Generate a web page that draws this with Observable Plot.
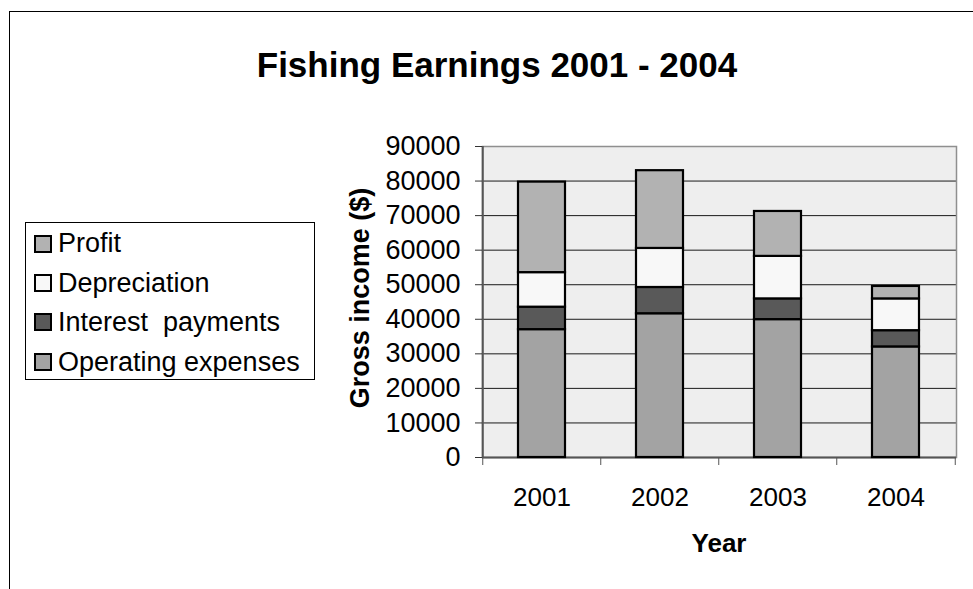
<!DOCTYPE html>
<html>
<head>
<meta charset="utf-8">
<script src="https://cdn.jsdelivr.net/npm/d3@7"></script>
<script src="https://cdn.jsdelivr.net/npm/@observablehq/plot@0.6"></script>
<style>
  html, body { margin: 0; padding: 0; background: #fff; }
  body { font-family: "Liberation Sans", Arial, sans-serif; }
  #wrap { position: relative; width: 973px; height: 589px; overflow: hidden; background: #fff; }
  #border { position: absolute; left: 9px; top: 11px; width: 1200px; height: 1200px; border-left: 1.5px solid #000; border-top: 1.5px solid #000; }
  #chart { position: absolute; left: 0; top: 0; }
  #title { position: absolute; left: 497px; top: 47px; transform: translateX(-50%); font-weight: bold; font-size: 35px; line-height: 35px; white-space: nowrap; color: #000; }
  #ylabel { position: absolute; left: 360px; top: 298px; transform: translate(-50%, -50%) rotate(-90deg); font-weight: bold; font-size: 27px; line-height: 27px; white-space: nowrap; }
  #xlabel { position: absolute; left: 719px; top: 530px; transform: translateX(-50%); font-weight: bold; font-size: 26px; line-height: 26px; white-space: nowrap; }
  #legend { position: absolute; left: 25px; top: 222px; width: 290px; height: 158px; box-sizing: border-box; border: 1px solid #000; background: #fff; }
  .row { position: absolute; left: 0; height: 25px; width: 288px; }
  .sw { position: absolute; left: 8px; top: 3.5px; width: 18px; height: 18px; box-sizing: border-box; border: 2px solid #000; }
  .lt { position: absolute; left: 32px; top: 0; font-size: 27px; line-height: 25px; white-space: pre; color: #000; }
</style>
</head>
<body>
<div id="wrap">
  <div id="border"></div>
  <div id="chart"></div>
  <div id="title"></div>
  <div id="ylabel"></div>
  <div id="xlabel"></div>
  <div id="legend"></div>
</div>
<script>
// ---- data ----
const years = ["2001", "2002", "2003", "2004"];
const seriesNames = ["Operating expenses", "Interest  payments", "Depreciation", "Profit"];
const operating = [37000, 41600, 39900, 32000];
const interest = [6500, 7600, 6000, 4700];
const depreciation = [10000, 11300, 12300, 9200];
const profit = [26200, 22500, 13000, 3600];
const seriesColors = ["#a3a3a3", "#595959", "#f8f8f8", "#b2b2b2"];
const yTicks = [0, 10000, 20000, 30000, 40000, 50000, 60000, 70000, 80000, 90000];
const legendOrder = ["Profit", "Depreciation", "Interest  payments", "Operating expenses"];
const titleText = "Fishing Earnings 2001 - 2004";
const yLabelText = "Gross income ($)";
const xLabelText = "Year";

// ---- table ----
const seriesValues = [operating, interest, depreciation, profit];
const data = [];
seriesNames.forEach((s, si) => {
  years.forEach((y, yi) => data.push({year: y, series: s, value: seriesValues[si][yi]}));
});

const W = 973, H = 589;
const mL = 482, mR = 17, mT = 146, mB = 132;
const xScaleOpts = {type: "band", domain: years, paddingInner: 0.6, paddingOuter: 0.3};
const step = Plot.scale({x: {...xScaleOpts, range: [mL, W - mR]}}).step;

const fmt = d3.format("d");

const chart = Plot.plot({
  width: W,
  height: H,
  marginLeft: mL,
  marginRight: mR,
  marginTop: mT,
  marginBottom: mB,
  style: {background: "transparent", fontFamily: "'Liberation Sans', Arial, sans-serif", color: "#000", overflow: "visible"},
  x: {...xScaleOpts, label: null},
  y: {domain: [0, 90000], label: null},
  color: {domain: seriesNames, range: seriesColors},
  marks: [
    Plot.frame({fill: "#eeeeee", stroke: "none"}),
    Plot.gridY(yTicks, {stroke: "#1a1a1a", strokeOpacity: 1, strokeWidth: 1}),
    Plot.frame({stroke: "#8f8f8f", strokeWidth: 1.5, fill: "none"}),
    Plot.ruleY([0], {stroke: "#555", strokeWidth: 2}),
    Plot.ruleX([years[0]], {y1: 0, y2: 90000, dx: -step / 2, stroke: "#555", strokeWidth: 2}),
    Plot.barY(data, {x: "year", y: "value", fill: "series", stroke: "#000", strokeWidth: 2.2}),
    Plot.axisY({ticks: yTicks, tickSize: 7, tickPadding: 15, fontSize: 27, tickFormat: fmt, label: null, stroke: "#333"}),
    Plot.axisX({ticks: years, tickSize: 8, tickFormat: () => "", dx: -step / 2, label: null, stroke: "#555"}),
    Plot.axisX({ticks: [years[years.length - 1]], tickSize: 8, tickFormat: () => "", dx: step / 2, label: null, stroke: "#555"}),
    Plot.axisX({ticks: years, tickSize: 0, tickPadding: 30, fontSize: 26, label: null})
  ]
});
document.getElementById("chart").appendChild(chart);

document.getElementById("title").textContent = titleText;
document.getElementById("ylabel").textContent = yLabelText;
document.getElementById("xlabel").textContent = xLabelText;

// legend
const rowCenters = [20.5, 60, 99, 139]; // relative to legend padding box
const legend = document.getElementById("legend");
legendOrder.forEach((name, i) => {
  const row = document.createElement("div");
  row.className = "row";
  row.style.top = (rowCenters[i] - 12.5) + "px";
  const sw = document.createElement("div");
  sw.className = "sw";
  sw.style.background = seriesColors[seriesNames.indexOf(name)];
  const t = document.createElement("div");
  t.className = "lt";
  t.textContent = name;
  row.appendChild(sw);
  row.appendChild(t);
  legend.appendChild(row);
});
</script>
</body>
</html>
